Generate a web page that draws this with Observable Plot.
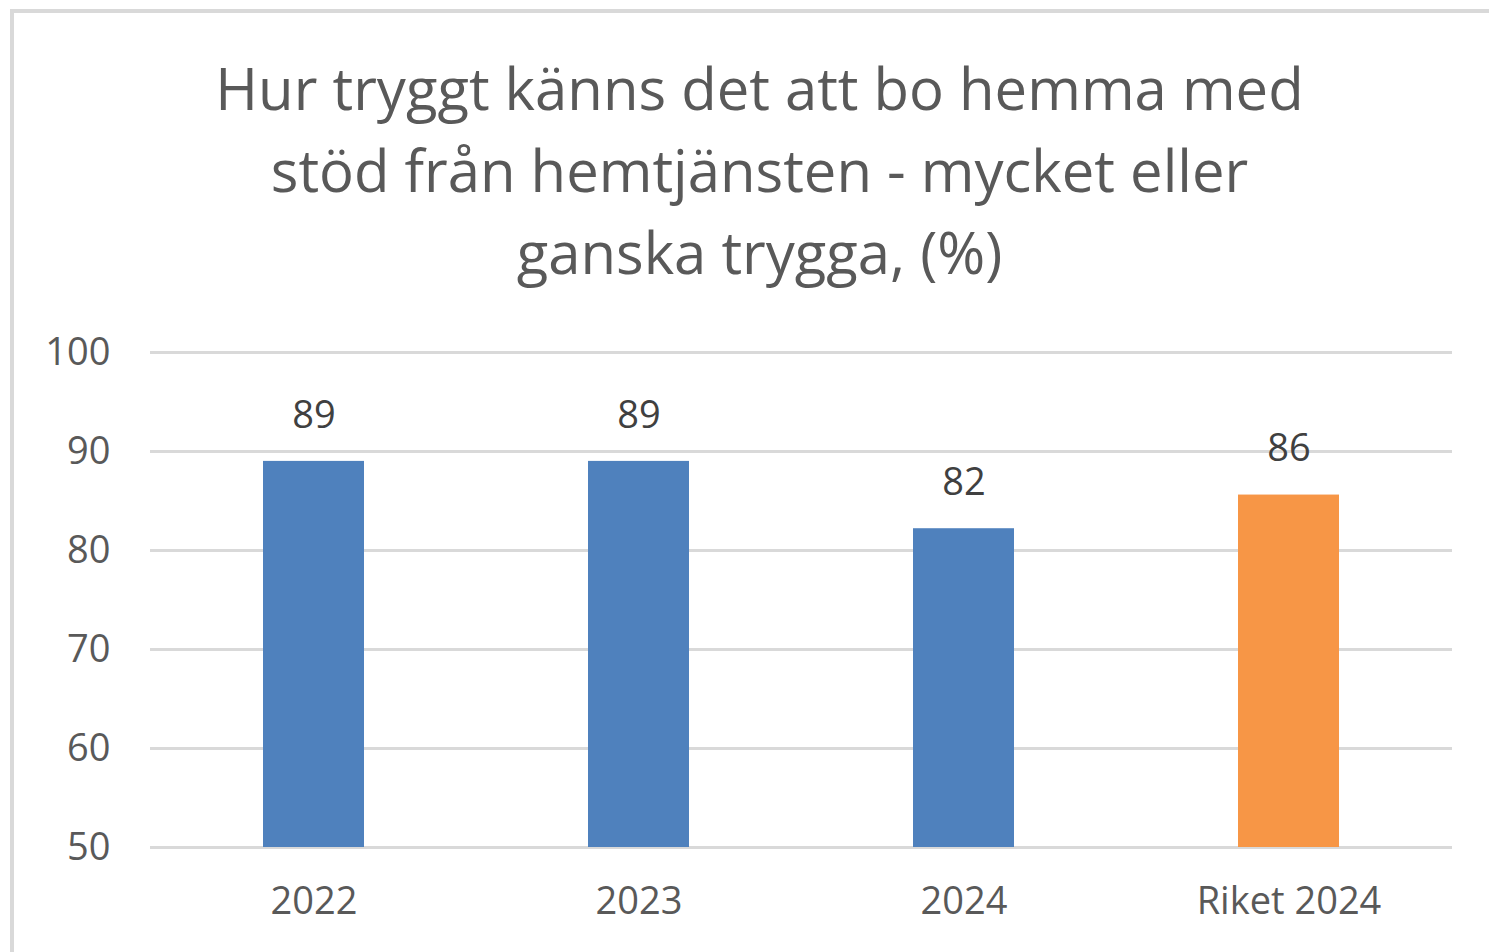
<!DOCTYPE html>
<html>
<head>
<meta charset="utf-8">
<script src="https://cdn.jsdelivr.net/npm/d3@7"></script>
<script src="https://cdn.jsdelivr.net/npm/@observablehq/plot@0.6"></script>
<style>
  html, body { margin: 0; padding: 0; background: #fff; }
  #wrap { position: relative; width: 1489px; height: 952px; overflow: hidden; font-family: "Open Sans", sans-serif; }
  #frame { position: absolute; left: 10px; top: 9px; width: 1500px; height: 1000px; border: 4px solid #d9d9d9; box-sizing: border-box; }
  #title { position: absolute; left: 0; top: 0; width: 1519px; height: 320px; text-align: center; color: #595959; font-size: 58px; line-height: 82px; padding-top: 47px; box-sizing: border-box; }
  #chart { position: absolute; left: 0; top: 320px; }
</style>
</head>
<body>
<div id="wrap">
  <div id="frame"></div>
  <div id="title">Hur tryggt känns det att bo hemma med<br>stöd från hemtjänsten - mycket eller<br>ganska trygga, (%)</div>
  <div id="chart"></div>
</div>
<script>
const categories = ["2022", "2023", "2024", "Riket 2024"];
const values = [89.0, 89.0, 82.2, 85.6];
const labels = ["89", "89", "82", "86"];
const colors = ["#4f81bd", "#4f81bd", "#4f81bd", "#f79646"];
const yTicks = [50, 60, 70, 80, 90, 100];

const data = categories.map((c, i) => ({cat: c, value: values[i], label: labels[i], color: colors[i]}));

const chart = Plot.plot({
  width: 1489,
  height: 632,
  marginTop: 32,
  marginBottom: 105,
  marginLeft: 150,
  marginRight: 37,
  style: {fontFamily: "Open Sans, sans-serif", fontSize: "38px", color: "#595959", background: "transparent"},
  x: {domain: categories, label: null, paddingInner: 0.69, paddingOuter: 0.345},
  y: {domain: [50, 100], ticks: yTicks, label: null},
  marks: [
    Plot.gridY(yTicks, {stroke: "#d9d9d9", strokeOpacity: 1, strokeWidth: 3}),
    Plot.barY(data, {x: "cat", y1: 50, y2: "value", fill: "color"}),
    Plot.text(data, {x: "cat", y: "value", text: "label", dy: -46, fill: "#404040", fontSize: 38}),
    Plot.axisX({tickSize: 0, tickPadding: 40, fontSize: 38, color: "#595959"}),
    Plot.axisY(yTicks, {tickSize: 0, tickPadding: 40, fontSize: 38, color: "#595959"})
  ]
});
document.getElementById("chart").appendChild(chart);
</script>
</body>
</html>
